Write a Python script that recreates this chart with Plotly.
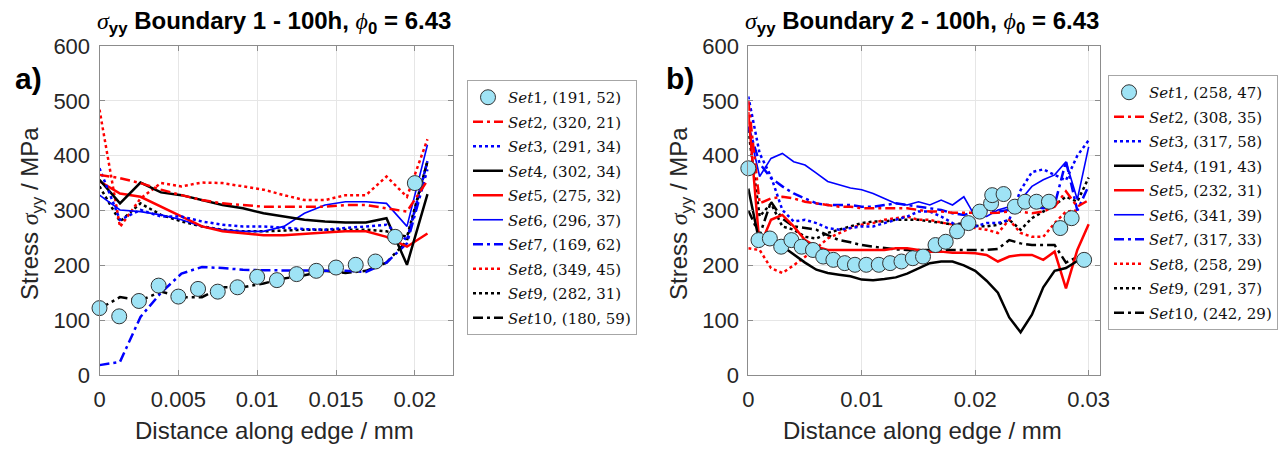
import plotly.graph_objects as go

# ---------------- data ----------------
XL = [0, 0.0013, 0.0026, 0.0039, 0.0052, 0.0065, 0.0078, 0.0091, 0.0104, 0.0117,
      0.0130, 0.0143, 0.0156, 0.0169, 0.0182, 0.0195, 0.0208]
XL1 = [0, 0.00125, 0.0025, 0.00375, 0.005, 0.00625, 0.0075, 0.00875, 0.01, 0.01125,
       0.0125, 0.01375, 0.015, 0.01625, 0.0175, 0.01875, 0.02]

L_set1 = [122, 107, 135, 163, 143, 157, 152, 160, 179, 173, 184, 190, 196, 201, 207, 252, 350]
L_set2 = [365, 359, 350, 338, 328, 319, 313, 310, 307, 307, 307, 307, 310, 310, 304, 298, 355]
L_set3 = [377, 283, 301, 289, 289, 280, 274, 271, 271, 268, 266, 265, 268, 271, 274, 246, 390]
L_set4 = [356, 313, 351, 333, 328, 319, 310, 304, 295, 289, 283, 280, 278, 278, 286, 201, 330]
L_set5 = [353, 331, 325, 307, 289, 271, 262, 258, 255, 255, 258, 260, 262, 262, 252, 234, 258]
L_set6 = [328, 301, 298, 292, 283, 271, 265, 262, 262, 271, 295, 310, 316, 316, 313, 271, 420]
L_set7 = [18, 24, 106, 150, 185, 197, 195, 192, 191, 191, 191, 191, 190, 188, 205, 240, 375]
L_set8 = [484, 270, 322, 350, 344, 351, 350, 344, 338, 328, 319, 319, 328, 328, 362, 325, 430]
L_set9 = [344, 280, 313, 292, 280, 271, 265, 262, 262, 264, 265, 265, 265, 265, 262, 252, 390]
L_set10 = [121, 142, 136, 152, 142, 142, 160, 160, 167, 176, 182, 190, 186, 190, 205, 245, 390]

XR = [0, 0.001, 0.002, 0.003, 0.004, 0.005, 0.006, 0.007, 0.008, 0.009, 0.010,
      0.011, 0.012, 0.013, 0.014, 0.015, 0.016, 0.017, 0.018, 0.019, 0.020,
      0.021, 0.022, 0.023, 0.024, 0.025, 0.026, 0.027, 0.028, 0.029, 0.030]
XR1 = [0, 0.0009, 0.0019, 0.0029, 0.0038, 0.0047, 0.0057, 0.0066, 0.0075, 0.0085,
       0.0094, 0.0104, 0.0115, 0.0125, 0.0135, 0.0145, 0.0154, 0.0165, 0.0174, 0.0184,
       0.0194, 0.0204, 0.0214, 0.0215, 0.0225, 0.0235, 0.0244, 0.0254, 0.0265, 0.0275,
       0.0285, 0.0296]

R_set1 = [377, 246, 249, 234, 246, 234, 228, 216, 210, 204, 201, 201, 201, 204, 207, 213,
          216, 237, 243, 262, 277, 298, 313, 328, 330, 307, 316, 316, 316, 268, 286, 210]
R_set2 = [500, 313, 322, 325, 322, 316, 313, 310, 307, 307, 304, 304, 304, 304, 304, 301,
          298, 298, 296, 296, 295, 295, 296, 298, 298, 295, 298, 307, 335, 307, 319]
R_set3 = [508, 404, 362, 301, 280, 283, 277, 268, 265, 268, 271, 271, 277, 283, 289, 298,
          298, 289, 277, 271, 271, 277, 277, 283, 337, 370, 375, 365, 355, 400, 428]
R_set4 = [340, 240, 250, 235, 220, 205, 192, 186, 183, 180, 174, 173, 175, 178, 185, 195,
          204, 207, 207, 200, 190, 172, 150, 105, 78, 110, 160, 190, 195, 208, None]
R_set5 = [480, 234, 283, 292, 271, 246, 234, 228, 228, 228, 228, 228, 228, 231, 231, 228,
          225, 225, 223, 223, 222, 219, 207, 216, 219, 219, 210, 225, 158, 228, 275]
R_set6 = [453, 362, 395, 404, 389, 383, 368, 353, 347, 341, 338, 331, 322, 313, 310, 316,
          310, 319, 310, 325, 289, 289, 301, 307, 319, 344, 356, 365, 389, 320, 416]
R_set7 = [453, 386, 359, 344, 331, 322, 313, 310, 310, 310, 307, 307, 310, 313, 310, 307,
          304, 301, 295, 292, 298, 301, 298, 301, 313, 307, 304, 310, 390, 300, 345]
R_set8 = [231, 228, 195, 186, 200, 215, 231, 249, 259, 268, 274, 277, 283, 286, 289, 283,
          283, 278, 274, 271, 268, 265, 259, 283, 259, 252, 252, 277, 298, 300, None]
R_set9 = [447, 289, 313, 271, 265, 252, 249, 259, 265, 271, 277, 280, 280, 283, 283, 283,
          280, 278, 274, 277, 272, 271, 274, 283, 265, 286, 298, 310, 325, 316, 360]
R_set10 = [300, 255, 316, 285, 271, 268, 265, 255, 246, 242, 237, 234, 231, 229, 228, 228,
           228, 228, 228, 228, 228, 228, 230, 246, 240, 237, 237, 237, 205, 215, None]

L_labels = ["(191, 52)", "(320, 21)", "(291, 34)", "(302, 34)", "(275, 32)",
            "(296, 37)", "(169, 62)", "(349, 45)", "(282, 31)", "(180, 59)"]
R_labels = ["(258, 47)", "(308, 35)", "(317, 58)", "(191, 43)", "(232, 31)",
            "(341, 39)", "(317, 33)", "(258, 29)", "(291, 37)", "(242, 29)"]

x_ticks_L = [0, 0.005, 0.01, 0.015, 0.02]
x_ticktext_L = ["0", "0.005", "0.01", "0.015", "0.02"]
x_ticks_R = [0, 0.01, 0.02, 0.03]
x_ticktext_R = ["0", "0.01", "0.02", "0.03"]
y_ticks = [0, 100, 200, 300, 400, 500, 600]

# ---------------- styles ----------------
RED, BLUE, BLACK = "#ff0000", "#0000ff", "#000000"
DASHDOT = "10px,4px,3px,4px"
DOT = "3px,3px"
line_styles = [
    None,
    dict(color=RED, dash=DASHDOT, width=2.5),
    dict(color=BLUE, dash=DOT, width=2.5),
    dict(color=BLACK, dash="solid", width=2.5),
    dict(color=RED, dash="solid", width=2.5),
    dict(color=BLUE, dash="solid", width=1.6),
    dict(color=BLUE, dash=DASHDOT, width=2.5),
    dict(color=RED, dash=DOT, width=2.5),
    dict(color=BLACK, dash=DOT, width=2.5),
    dict(color=BLACK, dash=DASHDOT, width=2.5),
]

fig = go.Figure()


def add_panel(xs_lines, xs_markers, series, labels, xa, ya, leg):
    # lines first (Set10 drawn first, Set2 last), markers on top
    for i in range(len(series) - 1, 0, -1):
        name = '<i>Set</i>%d, %s' % (i + 1, labels[i])
        fig.add_trace(go.Scatter(
            x=xs_lines, y=series[i], mode="lines", name=name,
            line=line_styles[i], xaxis=xa, yaxis=ya, legend=leg,
            legendgroup="%s%d" % (leg, i), legendrank=i + 1, connectgaps=False))
    fig.add_trace(go.Scatter(
        x=xs_markers, y=series[0], mode="markers",
        name='<i>Set</i>1, %s' % labels[0],
        marker=dict(symbol="circle", size=15, color="#9fe3f5",
                    line=dict(color="#333333", width=1)),
        cliponaxis=False, xaxis=xa, yaxis=ya, legend=leg,
        legendgroup="%s0" % leg, legendrank=1))


add_panel(XL, XL1, [L_set1, L_set2, L_set3, L_set4, L_set5, L_set6, L_set7, L_set8, L_set9, L_set10],
          L_labels, "x", "y", "legend")
add_panel(XR, XR1, [R_set1, R_set2, R_set3, R_set4, R_set5, R_set6, R_set7, R_set8, R_set9, R_set10],
          R_labels, "x2", "y2", "legend2")

W, H = 1281, 449
AX = "#8c8c8c"
TICKF = dict(family="Liberation Sans, Arial, sans-serif", size=22, color="#262626")

axis_common = dict(showgrid=True, gridcolor="#e6e6e6", gridwidth=1,
                   showline=True, linecolor=AX, linewidth=1, mirror="ticks",
                   ticks="inside", ticklen=5, tickcolor=AX, zeroline=False,
                   tickfont=TICKF)

legend_common = dict(bgcolor="white", bordercolor="#a6a6a6", borderwidth=1,
                     font=dict(family="DejaVu Serif, Liberation Serif, serif", size=15,
                               color="#111111"),
                     xanchor="left", yanchor="top", traceorder="grouped",
                     tracegroupgap=2, itemwidth=30)

fig.update_layout(
    width=W, height=H, autosize=False,
    margin=dict(l=0, r=0, t=0, b=0, autoexpand=False),
    paper_bgcolor="white", plot_bgcolor="white",
    xaxis=dict(domain=[99.5 / W, 452.7 / W], range=[0, 0.0224], tickvals=x_ticks_L,
               ticktext=x_ticktext_L, anchor="y", ticklabelstandoff=5, **axis_common),
    yaxis=dict(domain=[1 - 375 / H, 1 - 46 / H], range=[0, 600], tickvals=y_ticks,
               anchor="x", ticklabelstandoff=4, **axis_common),
    xaxis2=dict(domain=[748.3 / W, 1100 / W], range=[0, 0.0310], tickvals=x_ticks_R,
                ticktext=x_ticktext_R, anchor="y2", ticklabelstandoff=5, **axis_common),
    yaxis2=dict(domain=[1 - 375 / H, 1 - 46 / H], range=[0, 600], tickvals=y_ticks,
                anchor="x2", ticklabelstandoff=4, **axis_common),
    legend=dict(x=467 / W, y=1 - 80 / H, **legend_common),
    legend2=dict(x=1108 / W, y=1 - 75 / H, **legend_common),
    showlegend=True,
)

SANS = "Liberation Sans, Arial, sans-serif"
SERIF_I = 'style="font-family:Liberation Serif;font-style:italic;font-weight:normal"'


def title_text(n):
    return ('<span %s>σ</span><sub>yy</sub> Boundary %d - 100h, '
            '<span %s>ϕ</span><sub>0</sub> = 6.43' % (SERIF_I, n, SERIF_I))


ytitle = 'Stress <span %s>σ</span><sub>yy</sub> / MPa' % SERIF_I
xtitle = "Distance along edge / mm"

ann = []
for cx, n, ytx in [(274, 1, 31), (922, 2, 680)]:
    ann.append(dict(x=cx / W, y=1 - 22 / H, xref="paper", yref="paper",
                    text="<b>" + title_text(n) + "</b>", showarrow=False,
                    xanchor="center", yanchor="middle",
                    font=dict(family=SANS, size=24, color="#000000")))
    ann.append(dict(x=cx / W, y=1 - 430 / H, xref="paper", yref="paper",
                    text=xtitle, showarrow=False, xanchor="center", yanchor="middle",
                    font=dict(family=SANS, size=24, color="#262626")))
    ann.append(dict(x=ytx / W, y=1 - 214 / H, xref="paper", yref="paper",
                    text=ytitle, showarrow=False, textangle=-90,
                    xanchor="center", yanchor="middle",
                    font=dict(family=SANS, size=24, color="#262626")))
ann.append(dict(x=28 / W, y=1 - 78 / H, xref="paper", yref="paper", text="<b>a)</b>",
                showarrow=False, xanchor="center", yanchor="middle",
                font=dict(family=SANS, size=30, color="#000000")))
ann.append(dict(x=680 / W, y=1 - 78 / H, xref="paper", yref="paper", text="<b>b)</b>",
                showarrow=False, xanchor="center", yanchor="middle",
                font=dict(family=SANS, size=30, color="#000000")))
fig.update_layout(annotations=ann)

fig.write_html("out.html")
